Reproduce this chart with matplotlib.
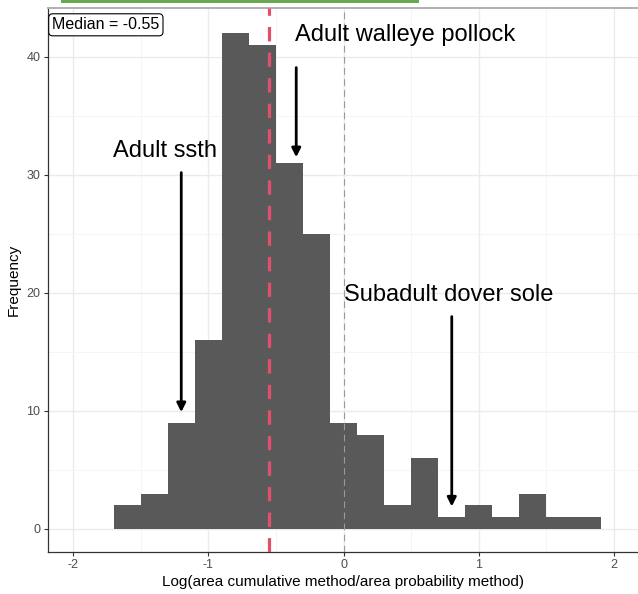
import matplotlib.pyplot as plt
from matplotlib.patches import Rectangle
import numpy as np

plt.rcParams['font.family'] = ['Liberation Sans', 'DejaVu Sans']
plt.rcParams['axes.unicode_minus'] = False

# histogram data (bin width 0.2)
bin_left = np.round(np.arange(-1.7, 1.9, 0.2), 2)
counts = [2, 3, 9, 16, 42, 41, 31, 25, 9, 8, 2, 6, 1, 2, 1, 3, 1, 1]
median_val = -0.55

# annotations: (label, text x, text y, arrow x, arrow start y, arrow end y)
notes = [
    ('Adult walleye pollock', 0.455, 41.9, -0.35, 39.1, 31.5),
    ('Adult ssth', -1.32, 32.0, -1.2, 30.2, 9.9),
    ('Subadult dover sole', 0.776, 19.8, 0.8, 18.0, 1.9),
]

fig = plt.figure(figsize=(6.38, 5.94), dpi=100)
ax = fig.add_axes([47.5 / 638, 1 - 552 / 594, 1 - 47.5 / 638, (552 - 7.5) / 594])

ax.set_xlim(-2.189, 2.177)
ax.set_ylim(-1.95, 44.19)

# grid like ggplot theme_bw
ax.set_xticks([-2, -1, 0, 1, 2])
ax.set_xticks([-1.5, -0.5, 0.5, 1.5], minor=True)
ax.set_yticks([0, 10, 20, 30, 40])
ax.set_yticks([5, 15, 25, 35], minor=True)
ax.grid(True, which='major', color='#ebebeb', lw=1.0)
ax.grid(True, which='minor', color='#f4f4f4', lw=0.6)
ax.set_axisbelow(True)

ax.bar(bin_left, counts, width=0.2, align='edge', color='#595959', lw=0, zorder=2)

ax.axvline(0, color='#9a9a9a', lw=0.8, ls=(0, (6, 4)), zorder=3)
ax.axvline(median_val, color='#e0506e', lw=2.3, ls=(0, (4.5, 3.5)), zorder=4)

for label, tx, ty, axx, y0, y1 in notes:
    ax.text(tx, ty, label, ha='center', va='center', fontsize=17, color='black', zorder=5)
    ax.annotate('', xy=(axx, y1), xytext=(axx, y0),
                arrowprops=dict(arrowstyle='-|>', color='black', lw=2.0,
                                mutation_scale=13, shrinkA=0, shrinkB=0),
                zorder=5)

ax.text(0.008, 0.982, f'Median = {median_val:.2f}', transform=ax.transAxes,
        ha='left', va='top', fontsize=11.5,
        bbox=dict(boxstyle='round,pad=0.22,rounding_size=0.25', fc='white', ec='black', lw=0.8))

ax.spines['right'].set_visible(False)
ax.spines['top'].set_color('#b0b0b0')
ax.spines['top'].set_linewidth(1.4)
ax.spines['left'].set_color('#333333')
ax.spines['bottom'].set_color('#333333')
ax.spines['left'].set_linewidth(0.9)
ax.spines['bottom'].set_linewidth(0.9)

ax.tick_params(which='major', length=3, width=0.8, color='#333333', labelcolor='#4d4d4d', labelsize=9, pad=2)
ax.tick_params(which='minor', length=0)

ax.set_xlabel('Log(area cumulative method/area probability method)', fontsize=11, labelpad=3)
ax.set_ylabel('Frequency', fontsize=11, labelpad=4)

# green bar at very top of image
fig.patches.append(Rectangle((61 / 638, 1 - 3 / 594), (419 - 61) / 638, 3 / 594,
                             transform=fig.transFigure, color='#6aa84f', lw=0))

fig.savefig('out.png', dpi=100)
